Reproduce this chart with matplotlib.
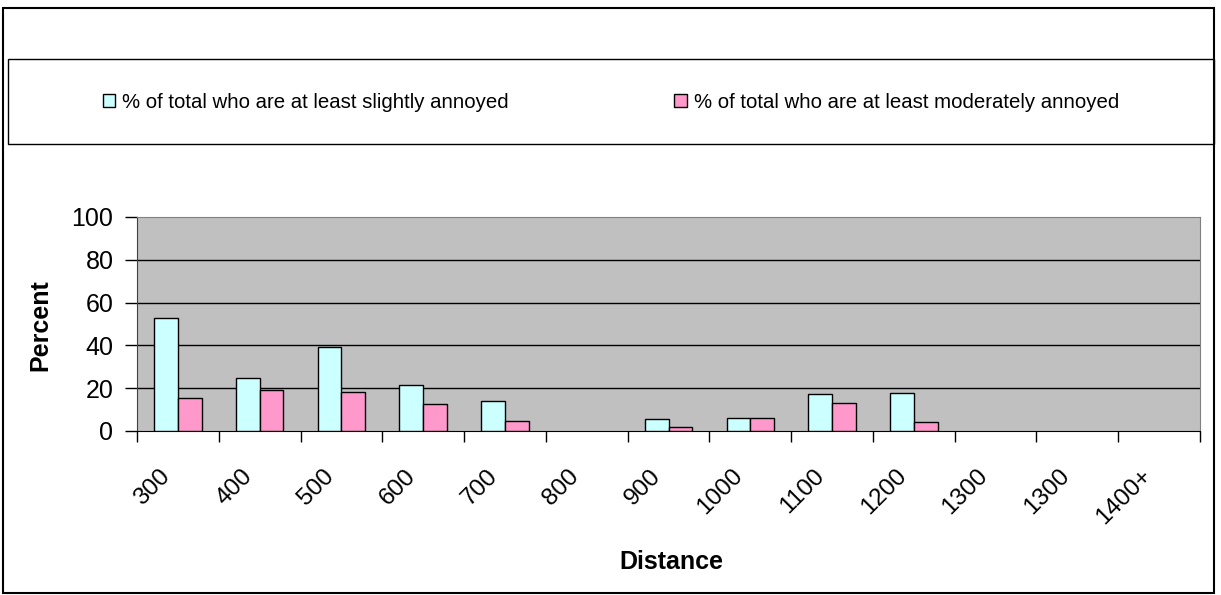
import numpy as np
import matplotlib
matplotlib.use("Agg")
import matplotlib.pyplot as plt
import matplotlib.transforms as mtransforms
from matplotlib.patches import Rectangle

plt.rcParams['font.family'] = ['Liberation Sans', 'DejaVu Sans']

# Distance bands and the two annoyance series (percent of respondents).
distances = ["300", "400", "500", "600", "700", "800", "900", "1000",
             "1100", "1200", "1300", "1300", "1400+"]
slightly = [52.6, 24.8, 39.3, 21.7, 14.1, np.nan, 5.4, 6.1,
            17.2, 17.8, np.nan, np.nan, np.nan]
moderately = [15.4, 19.2, 18.0, 12.4, 4.8, np.nan, 2.1, 6.1,
              13.0, 4.3, np.nan, np.nan, np.nan]
series_names = ["% of total who are at least slightly annoyed",
                "% of total who are at least moderately annoyed"]

W, H = 1221, 595
fig = plt.figure(figsize=(W / 100, H / 100), dpi=100)

# Plot area, in pixel coordinates converted to figure fractions.
x0, x1, y0, y1 = 137, 1200, 217, 431
ax = fig.add_axes([x0 / W, 1 - y1 / H, (x1 - x0) / W, (y1 - y0) / H])
ax.set_facecolor("#C0C0C0")

x = np.arange(len(distances))
bw = 0.29
s1 = np.array(slightly)
s2 = np.array(moderately)
m1 = ~np.isnan(s1)
m2 = ~np.isnan(s2)
b1 = ax.bar(x[m1] - bw / 2, s1[m1], bw, color="#CCFFFF", edgecolor="black",
            linewidth=1.0, label=series_names[0], zorder=3)
b2 = ax.bar(x[m2] + bw / 2, s2[m2], bw, color="#FF99CC", edgecolor="black",
            linewidth=1.0, label=series_names[1], zorder=3)

ax.set_xlim(-0.5, len(distances) - 0.5)
ax.set_ylim(0, 100)

# Horizontal gridlines.
for v in [20, 40, 60, 80]:
    ax.axhline(v, color="black", linewidth=1.0, zorder=1)

ax.set_yticks([0, 20, 40, 60, 80, 100])
ax.tick_params(axis="y", direction="out", length=9, width=1, pad=8,
               labelsize=18, colors="black")

# Category labels near the centres, tick marks at the boundaries.
ax.set_xticks(x)
ax.set_xticklabels(distances, rotation=45, ha="right", va="center",
                   rotation_mode="anchor", fontsize=17.5)
ax.tick_params(axis="x", which="major", length=0, pad=30)
ax.set_xticks(np.arange(-0.5, len(distances)), minor=True)
ax.tick_params(axis="x", which="minor", direction="out", length=8, width=1)
shift = mtransforms.ScaledTranslation(-11 / 100, 0, fig.dpi_scale_trans)
for lab in ax.get_xticklabels():
    lab.set_transform(lab.get_transform() + shift)

for side in ["top", "right"]:
    ax.spines[side].set_color("#808080")
ax.spines["left"].set_color("#404040")
ax.spines["bottom"].set_color("black")

fig.text(40 / W, 1 - 325 / H, "Percent", fontsize=18, fontweight="bold",
         rotation=90, ha="center", va="center")
fig.text(671 / W, 1 - 562 / H, "Distance", fontsize=18, fontweight="bold",
         ha="center", va="center")

# Outer chart border and legend box.
fig.patches.append(Rectangle((3 / W, 1 - 593 / H), 1211 / W, 585 / H,
                             transform=fig.transFigure, fill=False,
                             edgecolor="black", linewidth=1.5))
fig.patches.append(Rectangle((8 / W, 1 - 144 / H), 1206 / W, 85 / H,
                             transform=fig.transFigure, fill=False,
                             edgecolor="black", linewidth=1.0))

fig.legend(handles=[b1, b2], loc="center left",
           bbox_to_anchor=(103 / W, 1 - 102 / H), ncol=2, frameon=False,
           fontsize=14.7, handlelength=0.6, handleheight=0.6,
           handletextpad=0.35, columnspacing=8.1, borderpad=0,
           borderaxespad=0)

fig.savefig("out.png", dpi=100)
